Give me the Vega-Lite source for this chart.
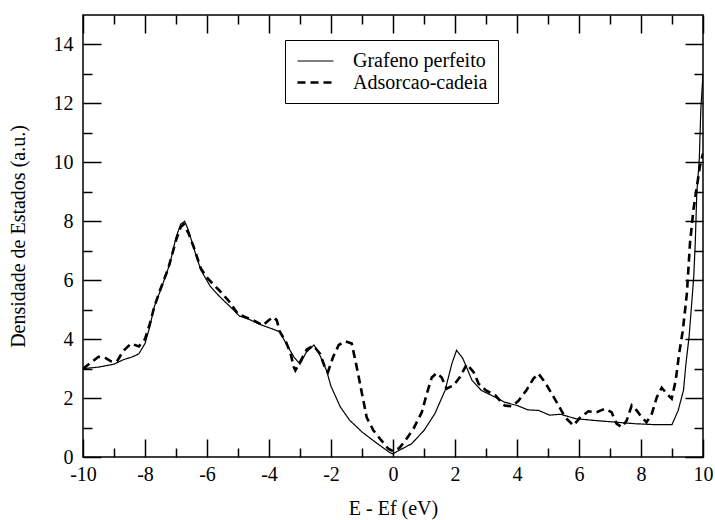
{
  "$schema": "https://vega.github.io/schema/vega-lite/v6.json",
  "width": 620,
  "height": 442,
  "autosize": {"type": "none"},
  "padding": {"left": 83, "top": 15, "right": 12, "bottom": 63},
  "background": "white",
  "config": {
    "view": {"stroke": "black", "strokeWidth": 1.5},
    "font": "Liberation Serif, Times New Roman, DejaVu Serif, serif",
    "axis": {"labelFont": "Liberation Serif, Times New Roman, DejaVu Serif, serif", "titleFont": "Liberation Serif, Times New Roman, DejaVu Serif, serif", "labelFontSize": 20, "titleFontSize": 20, "labelColor": "black", "titleColor": "black", "titleFontWeight": "normal", "grid": false, "domain": false, "tickColor": "black", "tickWidth": 1.5, "labelFlush": false, "labelOverlap": false},
    "legend": {"labelFont": "Liberation Serif, Times New Roman, DejaVu Serif, serif"}
  },
  "data": {
    "values": [
      {"E": -10, "DOS": 3.0, "series": "Grafeno perfeito"},
      {"E": -9.5, "DOS": 3.05, "series": "Grafeno perfeito"},
      {"E": -9.0, "DOS": 3.15, "series": "Grafeno perfeito"},
      {"E": -8.7, "DOS": 3.3, "series": "Grafeno perfeito"},
      {"E": -8.4, "DOS": 3.4, "series": "Grafeno perfeito"},
      {"E": -8.2, "DOS": 3.5, "series": "Grafeno perfeito"},
      {"E": -8.0, "DOS": 3.85, "series": "Grafeno perfeito"},
      {"E": -7.85, "DOS": 4.4, "series": "Grafeno perfeito"},
      {"E": -7.7, "DOS": 5.1, "series": "Grafeno perfeito"},
      {"E": -7.45, "DOS": 5.8, "series": "Grafeno perfeito"},
      {"E": -7.2, "DOS": 6.55, "series": "Grafeno perfeito"},
      {"E": -7.0, "DOS": 7.45, "series": "Grafeno perfeito"},
      {"E": -6.85, "DOS": 7.9, "series": "Grafeno perfeito"},
      {"E": -6.72, "DOS": 8.0, "series": "Grafeno perfeito"},
      {"E": -6.6, "DOS": 7.7, "series": "Grafeno perfeito"},
      {"E": -6.4, "DOS": 7.0, "series": "Grafeno perfeito"},
      {"E": -6.2, "DOS": 6.35, "series": "Grafeno perfeito"},
      {"E": -5.9, "DOS": 5.8, "series": "Grafeno perfeito"},
      {"E": -5.6, "DOS": 5.45, "series": "Grafeno perfeito"},
      {"E": -5.25, "DOS": 5.1, "series": "Grafeno perfeito"},
      {"E": -4.95, "DOS": 4.78, "series": "Grafeno perfeito"},
      {"E": -4.7, "DOS": 4.7, "series": "Grafeno perfeito"},
      {"E": -4.3, "DOS": 4.5, "series": "Grafeno perfeito"},
      {"E": -3.9, "DOS": 4.35, "series": "Grafeno perfeito"},
      {"E": -3.65, "DOS": 4.25, "series": "Grafeno perfeito"},
      {"E": -3.45, "DOS": 3.85, "series": "Grafeno perfeito"},
      {"E": -3.2, "DOS": 3.4, "series": "Grafeno perfeito"},
      {"E": -3.0, "DOS": 3.15, "series": "Grafeno perfeito"},
      {"E": -2.8, "DOS": 3.55, "series": "Grafeno perfeito"},
      {"E": -2.55, "DOS": 3.8, "series": "Grafeno perfeito"},
      {"E": -2.4, "DOS": 3.55, "series": "Grafeno perfeito"},
      {"E": -2.15, "DOS": 2.95, "series": "Grafeno perfeito"},
      {"E": -2.0, "DOS": 2.4, "series": "Grafeno perfeito"},
      {"E": -1.7, "DOS": 1.7, "series": "Grafeno perfeito"},
      {"E": -1.4, "DOS": 1.25, "series": "Grafeno perfeito"},
      {"E": -1.0, "DOS": 0.85, "series": "Grafeno perfeito"},
      {"E": -0.5, "DOS": 0.45, "series": "Grafeno perfeito"},
      {"E": -0.1, "DOS": 0.15, "series": "Grafeno perfeito"},
      {"E": 0.0, "DOS": 0.1, "series": "Grafeno perfeito"},
      {"E": 0.1, "DOS": 0.17, "series": "Grafeno perfeito"},
      {"E": 0.6, "DOS": 0.45, "series": "Grafeno perfeito"},
      {"E": 1.0, "DOS": 0.9, "series": "Grafeno perfeito"},
      {"E": 1.35, "DOS": 1.47, "series": "Grafeno perfeito"},
      {"E": 1.68, "DOS": 2.26, "series": "Grafeno perfeito"},
      {"E": 1.9, "DOS": 3.17, "series": "Grafeno perfeito"},
      {"E": 2.05, "DOS": 3.62, "series": "Grafeno perfeito"},
      {"E": 2.25, "DOS": 3.35, "series": "Grafeno perfeito"},
      {"E": 2.55, "DOS": 2.6, "series": "Grafeno perfeito"},
      {"E": 2.85, "DOS": 2.26, "series": "Grafeno perfeito"},
      {"E": 3.2, "DOS": 2.08, "series": "Grafeno perfeito"},
      {"E": 3.6, "DOS": 1.86, "series": "Grafeno perfeito"},
      {"E": 4.0, "DOS": 1.75, "series": "Grafeno perfeito"},
      {"E": 4.35, "DOS": 1.6, "series": "Grafeno perfeito"},
      {"E": 4.7, "DOS": 1.58, "series": "Grafeno perfeito"},
      {"E": 5.05, "DOS": 1.42, "series": "Grafeno perfeito"},
      {"E": 5.4, "DOS": 1.45, "series": "Grafeno perfeito"},
      {"E": 5.9, "DOS": 1.3, "series": "Grafeno perfeito"},
      {"E": 6.5, "DOS": 1.24, "series": "Grafeno perfeito"},
      {"E": 7.2, "DOS": 1.18, "series": "Grafeno perfeito"},
      {"E": 7.8, "DOS": 1.13, "series": "Grafeno perfeito"},
      {"E": 8.4, "DOS": 1.1, "series": "Grafeno perfeito"},
      {"E": 9.0, "DOS": 1.1, "series": "Grafeno perfeito"},
      {"E": 9.2, "DOS": 1.58, "series": "Grafeno perfeito"},
      {"E": 9.37, "DOS": 2.26, "series": "Grafeno perfeito"},
      {"E": 9.45, "DOS": 3.17, "series": "Grafeno perfeito"},
      {"E": 9.55, "DOS": 4.07, "series": "Grafeno perfeito"},
      {"E": 9.62, "DOS": 5.0, "series": "Grafeno perfeito"},
      {"E": 9.7, "DOS": 6.1, "series": "Grafeno perfeito"},
      {"E": 9.75, "DOS": 7.25, "series": "Grafeno perfeito"},
      {"E": 9.8, "DOS": 8.96, "series": "Grafeno perfeito"},
      {"E": 9.88, "DOS": 10.1, "series": "Grafeno perfeito"},
      {"E": 9.93, "DOS": 11.8, "series": "Grafeno perfeito"},
      {"E": 10.0, "DOS": 13.0, "series": "Grafeno perfeito"},
      {"E": -10, "DOS": 3.0, "series": "Adsorcao-cadeia"},
      {"E": -9.75, "DOS": 3.2, "series": "Adsorcao-cadeia"},
      {"E": -9.5, "DOS": 3.4, "series": "Adsorcao-cadeia"},
      {"E": -9.3, "DOS": 3.38, "series": "Adsorcao-cadeia"},
      {"E": -9.1, "DOS": 3.25, "series": "Adsorcao-cadeia"},
      {"E": -8.9, "DOS": 3.25, "series": "Adsorcao-cadeia"},
      {"E": -8.7, "DOS": 3.6, "series": "Adsorcao-cadeia"},
      {"E": -8.45, "DOS": 3.85, "series": "Adsorcao-cadeia"},
      {"E": -8.2, "DOS": 3.75, "series": "Adsorcao-cadeia"},
      {"E": -8.0, "DOS": 4.0, "series": "Adsorcao-cadeia"},
      {"E": -7.85, "DOS": 4.5, "series": "Adsorcao-cadeia"},
      {"E": -7.7, "DOS": 5.1, "series": "Adsorcao-cadeia"},
      {"E": -7.5, "DOS": 5.7, "series": "Adsorcao-cadeia"},
      {"E": -7.25, "DOS": 6.4, "series": "Adsorcao-cadeia"},
      {"E": -7.0, "DOS": 7.35, "series": "Adsorcao-cadeia"},
      {"E": -6.85, "DOS": 7.8, "series": "Adsorcao-cadeia"},
      {"E": -6.75, "DOS": 7.9, "series": "Adsorcao-cadeia"},
      {"E": -6.6, "DOS": 7.6, "series": "Adsorcao-cadeia"},
      {"E": -6.42, "DOS": 7.1, "series": "Adsorcao-cadeia"},
      {"E": -6.2, "DOS": 6.4, "series": "Adsorcao-cadeia"},
      {"E": -5.97, "DOS": 6.05, "series": "Adsorcao-cadeia"},
      {"E": -5.6, "DOS": 5.65, "series": "Adsorcao-cadeia"},
      {"E": -5.3, "DOS": 5.3, "series": "Adsorcao-cadeia"},
      {"E": -5.0, "DOS": 4.85, "series": "Adsorcao-cadeia"},
      {"E": -4.7, "DOS": 4.72, "series": "Adsorcao-cadeia"},
      {"E": -4.5, "DOS": 4.64, "series": "Adsorcao-cadeia"},
      {"E": -4.2, "DOS": 4.47, "series": "Adsorcao-cadeia"},
      {"E": -4.0, "DOS": 4.65, "series": "Adsorcao-cadeia"},
      {"E": -3.85, "DOS": 4.75, "series": "Adsorcao-cadeia"},
      {"E": -3.75, "DOS": 4.64, "series": "Adsorcao-cadeia"},
      {"E": -3.65, "DOS": 4.25, "series": "Adsorcao-cadeia"},
      {"E": -3.45, "DOS": 3.9, "series": "Adsorcao-cadeia"},
      {"E": -3.3, "DOS": 3.5, "series": "Adsorcao-cadeia"},
      {"E": -3.2, "DOS": 3.05, "series": "Adsorcao-cadeia"},
      {"E": -3.15, "DOS": 2.94, "series": "Adsorcao-cadeia"},
      {"E": -3.0, "DOS": 3.22, "series": "Adsorcao-cadeia"},
      {"E": -2.78, "DOS": 3.65, "series": "Adsorcao-cadeia"},
      {"E": -2.57, "DOS": 3.78, "series": "Adsorcao-cadeia"},
      {"E": -2.35, "DOS": 3.5, "series": "Adsorcao-cadeia"},
      {"E": -2.2, "DOS": 3.05, "series": "Adsorcao-cadeia"},
      {"E": -2.1, "DOS": 2.88, "series": "Adsorcao-cadeia"},
      {"E": -1.93, "DOS": 3.4, "series": "Adsorcao-cadeia"},
      {"E": -1.75, "DOS": 3.8, "series": "Adsorcao-cadeia"},
      {"E": -1.55, "DOS": 3.93, "series": "Adsorcao-cadeia"},
      {"E": -1.33, "DOS": 3.85, "series": "Adsorcao-cadeia"},
      {"E": -1.17, "DOS": 3.05, "series": "Adsorcao-cadeia"},
      {"E": -1.0, "DOS": 2.15, "series": "Adsorcao-cadeia"},
      {"E": -0.85, "DOS": 1.35, "series": "Adsorcao-cadeia"},
      {"E": -0.63, "DOS": 0.9, "series": "Adsorcao-cadeia"},
      {"E": -0.42, "DOS": 0.62, "series": "Adsorcao-cadeia"},
      {"E": -0.15, "DOS": 0.28, "series": "Adsorcao-cadeia"},
      {"E": 0.0, "DOS": 0.2, "series": "Adsorcao-cadeia"},
      {"E": 0.2, "DOS": 0.3, "series": "Adsorcao-cadeia"},
      {"E": 0.4, "DOS": 0.56, "series": "Adsorcao-cadeia"},
      {"E": 0.66, "DOS": 0.96, "series": "Adsorcao-cadeia"},
      {"E": 0.93, "DOS": 1.52, "series": "Adsorcao-cadeia"},
      {"E": 1.09, "DOS": 2.15, "series": "Adsorcao-cadeia"},
      {"E": 1.25, "DOS": 2.7, "series": "Adsorcao-cadeia"},
      {"E": 1.41, "DOS": 2.85, "series": "Adsorcao-cadeia"},
      {"E": 1.57, "DOS": 2.7, "series": "Adsorcao-cadeia"},
      {"E": 1.73, "DOS": 2.32, "series": "Adsorcao-cadeia"},
      {"E": 1.95, "DOS": 2.43, "series": "Adsorcao-cadeia"},
      {"E": 2.16, "DOS": 2.71, "series": "Adsorcao-cadeia"},
      {"E": 2.38, "DOS": 3.15, "series": "Adsorcao-cadeia"},
      {"E": 2.6, "DOS": 2.88, "series": "Adsorcao-cadeia"},
      {"E": 2.76, "DOS": 2.49, "series": "Adsorcao-cadeia"},
      {"E": 3.0, "DOS": 2.26, "series": "Adsorcao-cadeia"},
      {"E": 3.3, "DOS": 2.09, "series": "Adsorcao-cadeia"},
      {"E": 3.6, "DOS": 1.75, "series": "Adsorcao-cadeia"},
      {"E": 3.83, "DOS": 1.72, "series": "Adsorcao-cadeia"},
      {"E": 4.04, "DOS": 1.9, "series": "Adsorcao-cadeia"},
      {"E": 4.3, "DOS": 2.26, "series": "Adsorcao-cadeia"},
      {"E": 4.53, "DOS": 2.66, "series": "Adsorcao-cadeia"},
      {"E": 4.69, "DOS": 2.83, "series": "Adsorcao-cadeia"},
      {"E": 4.9, "DOS": 2.54, "series": "Adsorcao-cadeia"},
      {"E": 5.12, "DOS": 2.15, "series": "Adsorcao-cadeia"},
      {"E": 5.34, "DOS": 1.75, "series": "Adsorcao-cadeia"},
      {"E": 5.55, "DOS": 1.35, "series": "Adsorcao-cadeia"},
      {"E": 5.82, "DOS": 1.07, "series": "Adsorcao-cadeia"},
      {"E": 6.03, "DOS": 1.33, "series": "Adsorcao-cadeia"},
      {"E": 6.3, "DOS": 1.55, "series": "Adsorcao-cadeia"},
      {"E": 6.57, "DOS": 1.52, "series": "Adsorcao-cadeia"},
      {"E": 6.84, "DOS": 1.64, "series": "Adsorcao-cadeia"},
      {"E": 7.05, "DOS": 1.52, "series": "Adsorcao-cadeia"},
      {"E": 7.21, "DOS": 1.13, "series": "Adsorcao-cadeia"},
      {"E": 7.38, "DOS": 1.01, "series": "Adsorcao-cadeia"},
      {"E": 7.54, "DOS": 1.24, "series": "Adsorcao-cadeia"},
      {"E": 7.7, "DOS": 1.75, "series": "Adsorcao-cadeia"},
      {"E": 7.86, "DOS": 1.58, "series": "Adsorcao-cadeia"},
      {"E": 8.02, "DOS": 1.35, "series": "Adsorcao-cadeia"},
      {"E": 8.18, "DOS": 1.18, "series": "Adsorcao-cadeia"},
      {"E": 8.35, "DOS": 1.47, "series": "Adsorcao-cadeia"},
      {"E": 8.51, "DOS": 2.03, "series": "Adsorcao-cadeia"},
      {"E": 8.67, "DOS": 2.35, "series": "Adsorcao-cadeia"},
      {"E": 8.83, "DOS": 2.15, "series": "Adsorcao-cadeia"},
      {"E": 8.99, "DOS": 1.98, "series": "Adsorcao-cadeia"},
      {"E": 9.12, "DOS": 2.6, "series": "Adsorcao-cadeia"},
      {"E": 9.23, "DOS": 3.51, "series": "Adsorcao-cadeia"},
      {"E": 9.35, "DOS": 4.3, "series": "Adsorcao-cadeia"},
      {"E": 9.48, "DOS": 5.55, "series": "Adsorcao-cadeia"},
      {"E": 9.58, "DOS": 7.25, "series": "Adsorcao-cadeia"},
      {"E": 9.69, "DOS": 8.38, "series": "Adsorcao-cadeia"},
      {"E": 9.82, "DOS": 9.3, "series": "Adsorcao-cadeia"},
      {"E": 9.9, "DOS": 9.86, "series": "Adsorcao-cadeia"},
      {"E": 10.0, "DOS": 10.3, "series": "Adsorcao-cadeia"}
    ]
  },
  "layer": [
    {
      "mark": {"type": "line", "stroke": "black", "clip": true},
      "encoding": {
        "x": {
          "field": "E", "type": "quantitative",
          "scale": {"domain": [-10, 10], "nice": false, "zero": false},
          "axis": {
            "orient": "bottom",
            "title": "E - Ef (eV)",
            "titlePadding": 5,
            "values": [-10,-9,-8,-7,-6,-5,-4,-3,-2,-1,0,1,2,3,4,5,6,7,8,9,10],
            "tickSize": {"condition": {"test": "datum.value % 2 === 0", "value": -18}, "value": -9},
            "labelPadding": 25,
            "labelExpr": "datum.value % 2 === 0 ? replace(datum.label, '\u2212', '-') : ''"
          }
        },
        "y": {
          "field": "DOS", "type": "quantitative",
          "scale": {"domain": [0, 15], "nice": false},
          "axis": {
            "orient": "left",
            "title": "Densidade de Estados (a.u.)",
            "titlePadding": 25,
            "values": [0,1,2,3,4,5,6,7,8,9,10,11,12,13,14],
            "tickSize": {"condition": {"test": "datum.value % 2 === 0", "value": -18}, "value": -9},
            "labelPadding": 28,
            "labelExpr": "datum.value % 2 === 0 ? datum.label : ''"
          }
        },
        "strokeDash": {
          "field": "series", "type": "nominal",
          "scale": {"domain": ["Grafeno perfeito", "Adsorcao-cadeia"], "range": [[1, 0], [8, 5]]},
          "legend": {
            "title": null,
            "orient": "none",
            "legendX": 202,
            "legendY": 25,
            "strokeColor": "black",
            "fillColor": "white",
            "padding": 10,
            "rowPadding": 0,
            "symbolType": "M-0.9,0L2.7,0",
            "symbolSize": 400,
            "symbolStrokeColor": "black",
            "symbolFillColor": "transparent",
            "labelOffset": 35,
            "labelFont": "Liberation Serif, Times New Roman, DejaVu Serif, serif",
            "labelFontSize": 20,
            "labelColor": "black"
          }
        },
        "strokeWidth": {
          "field": "series", "type": "nominal",
          "scale": {"domain": ["Grafeno perfeito", "Adsorcao-cadeia"], "range": [1.2, 2.6]},
          "legend": {
            "title": null,
            "orient": "none",
            "legendX": 202,
            "legendY": 25,
            "strokeColor": "black",
            "fillColor": "white",
            "padding": 10,
            "rowPadding": 0,
            "symbolType": "M-0.9,0L2.7,0",
            "symbolSize": 400,
            "symbolStrokeColor": "black",
            "symbolFillColor": "transparent",
            "labelOffset": 35,
            "labelFont": "Liberation Serif, Times New Roman, DejaVu Serif, serif",
            "labelFontSize": 20,
            "labelColor": "black"
          }
        }
      }
    },
    {
      "mark": {"type": "point", "opacity": 0},
      "encoding": {
        "x": {
          "field": "E", "type": "quantitative",
          "axis": {
            "orient": "top",
            "title": null,
            "labels": false,
            "values": [-10,-9,-8,-7,-6,-5,-4,-3,-2,-1,0,1,2,3,4,5,6,7,8,9,10],
            "tickSize": {"condition": {"test": "datum.value % 2 === 0", "value": -18}, "value": -9}
          }
        },
        "y": {
          "field": "DOS", "type": "quantitative",
          "axis": {
            "orient": "right",
            "title": null,
            "labels": false,
            "values": [0,1,2,3,4,5,6,7,8,9,10,11,12,13,14],
            "tickSize": {"condition": {"test": "datum.value % 2 === 0", "value": -18}, "value": -9}
          }
        }
      }
    }
  ],
  "resolve": {"axis": {"x": "independent", "y": "independent"}}
}
